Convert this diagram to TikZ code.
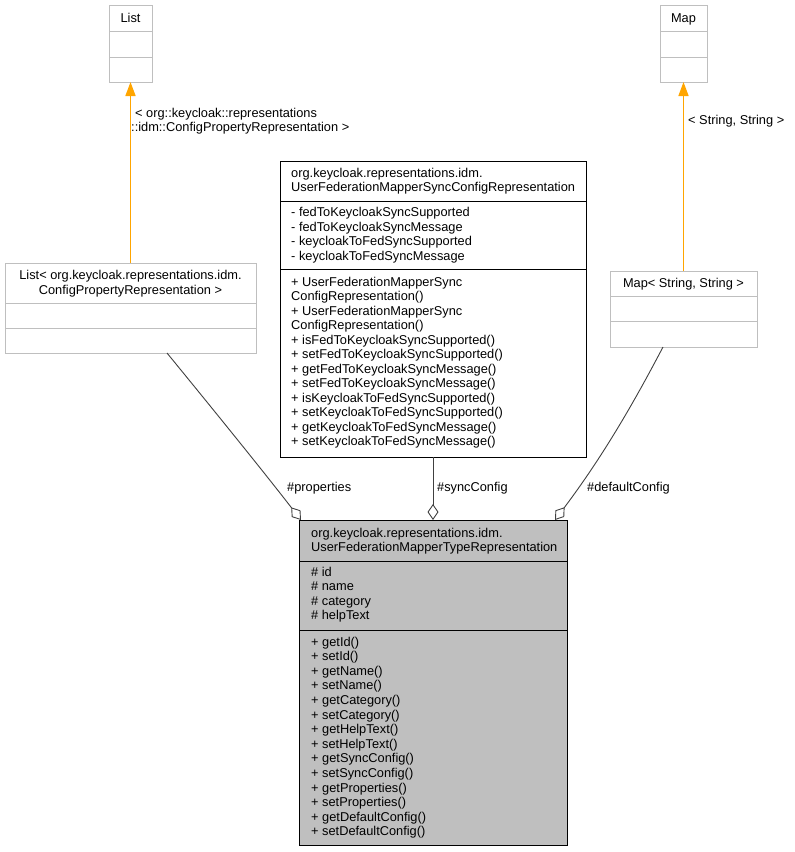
\documentclass[tikz,border=0pt]{standalone}
\usepackage{fontspec}
\setmainfont{Liberation Sans}
\usetikzlibrary{arrows.meta}
\definecolor{boxgray}{HTML}{BFBFBF}
\definecolor{mainfill}{HTML}{BFBFBF}
\definecolor{edgegray}{HTML}{404040}
\definecolor{inhorange}{HTML}{FFA500}
\begin{document}
\begin{tikzpicture}[x=1pt,y=-1pt,
  graybox/.style={draw=boxgray, fill=white, line width=1pt, inner sep=0, outer sep=0, anchor=north west},
  blackbox/.style={draw=black, fill=white, line width=1pt, inner sep=0, outer sep=0, anchor=north west},
  mainbox/.style={draw=black, fill=mainfill, line width=1pt, inner sep=0, outer sep=0, anchor=north west},
  txt/.style={font=\fontsize{12.8}{14}\selectfont, inner sep=0, anchor=base west},
  ctxt/.style={font=\fontsize{12.8}{14}\selectfont, inner sep=0, anchor=base},
  inherit/.style={draw=inhorange, line width=1.6pt, -{Triangle[length=14pt,width=10pt,fill=inhorange]}},
  aggr/.style={draw=edgegray, line width=0.9pt, -{Diamond[open,length=16pt,width=11pt,fill=white]}}
]
\useasboundingbox (0,0) rectangle (795,852);

% List
\node[graybox, minimum width=43pt, minimum height=77pt] (list) at (109,5) {};
\draw[boxgray, line width=1pt] (109,31) -- (152,31) (109,57) -- (152,57);
\node[ctxt] (listT) at (130.5,22) {List};

% Map
\node[graybox, minimum width=47pt, minimum height=77pt] (map) at (660,5) {};
\draw[boxgray, line width=1pt] (660,31) -- (707,31) (660,57) -- (707,57);
\node[ctxt] (mapT) at (683.5,22) {Map};

% List< ... >
\node[graybox, minimum width=251pt, minimum height=90pt] (listprop) at (5,263) {};
\draw[boxgray, line width=1pt] (5,303) -- (256,303) (5,328) -- (256,328);
\node[ctxt] (lp1) at (130.5,279.5) {List< org.keycloak.representations.idm.};
\node[ctxt] (lp2) at (130.5,294) {ConfigPropertyRepresentation >};

% Map< String, String >
\node[graybox, minimum width=147pt, minimum height=76pt] (mapss) at (610,271) {};
\draw[boxgray, line width=1pt] (610,296) -- (757,296) (610,321) -- (757,321);
\node[ctxt] (ms1) at (683.5,287.5) {Map< String, String >};

% Sync config
\node[blackbox, minimum width=306pt, minimum height=296pt] (sync) at (280,161) {};
\draw[black, line width=1pt] (280,201) -- (586,201) (280,269) -- (586,269);
\node[txt] (s1) at (291,177.5) {org.keycloak.representations.idm.};
\node[txt] (s2) at (291,191) {UserFederationMapperSyncConfigRepresentation};
\node[txt] (sa1) at (291,216.5) {- fedToKeycloakSyncSupported};
\node[txt] (sa2) at (291,231) {- fedToKeycloakSyncMessage};
\node[txt] (sa3) at (291,245.5) {- keycloakToFedSyncSupported};
\node[txt] (sa4) at (291,260) {- keycloakToFedSyncMessage};
\node[txt] (sm1) at (291,286) {+ UserFederationMapperSync};
\node[txt] (sm2) at (291,300.5) {ConfigRepresentation()};
\node[txt] (sm3) at (291,315) {+ UserFederationMapperSync};
\node[txt] (sm4) at (291,329.5) {ConfigRepresentation()};
\node[txt] (sm5) at (291,344) {+ isFedToKeycloakSyncSupported()};
\node[txt] (sm6) at (291,358.5) {+ setFedToKeycloakSyncSupported()};
\node[txt] (sm7) at (291,373) {+ getFedToKeycloakSyncMessage()};
\node[txt] (sm8) at (291,387.5) {+ setFedToKeycloakSyncMessage()};
\node[txt] (sm9) at (291,402) {+ isKeycloakToFedSyncSupported()};
\node[txt] (sm10) at (291,416.5) {+ setKeycloakToFedSyncSupported()};
\node[txt] (sm11) at (291,431) {+ getKeycloakToFedSyncMessage()};
\node[txt] (sm12) at (291,445.5) {+ setKeycloakToFedSyncMessage()};

% Main class
\node[mainbox, minimum width=268pt, minimum height=325pt] (main) at (299,520) {};
\draw[black, line width=1pt] (299,561) -- (567,561) (299,630) -- (567,630);
\node[txt] (m1) at (311,537.5) {org.keycloak.representations.idm.};
\node[txt] (m2) at (311,551.5) {UserFederationMapperTypeRepresentation};
\node[txt] (ma1) at (311,576) {\# id};
\node[txt] (ma2) at (311,590.5) {\# name};
\node[txt] (ma3) at (311,605) {\# category};
\node[txt] (ma4) at (311,619.5) {\# helpText};
\foreach \t [count=\i from 0] in {getId(),setId(),getName(),setName(),getCategory(),setCategory(),getHelpText(),setHelpText(),getSyncConfig(),setSyncConfig(),getProperties(),setProperties(),getDefaultConfig(),setDefaultConfig()}
  \node[txt] (mm\i) at (311,646+14.6*\i) {+ \t};

% Inheritance
\draw[inherit] (listprop.north) -- (list.south);
\node[txt] (lbl1) at (135,117) {< org::keycloak::representations};
\node[txt] (lbl2) at (131,131.5) {::idm::ConfigPropertyRepresentation >};
\draw[inherit] (mapss.north) -- (map.south);
\node[txt] (lbl3) at (688,124.5) {< String, String >};

% Aggregations
\coordinate (pstart) at (167,353);
\coordinate (pend) at (301,520);
\draw[aggr] (pstart) .. controls (230,430) and (270,480) .. (pend);
\node[txt] (lbl4) at (287,491.5) {\#properties};
\draw[aggr] (sync.south) -- (main.north);
\node[txt] (lbl5) at (437,491.5) {\#syncConfig};
\coordinate (dstart) at (663,347);
\coordinate (dend) at (555,520);
\draw[aggr] (dstart) .. controls (630,410) and (600,460) .. (dend);
\node[txt] (lbl6) at (587,491.5) {\#defaultConfig};
\end{tikzpicture}
\end{document}
